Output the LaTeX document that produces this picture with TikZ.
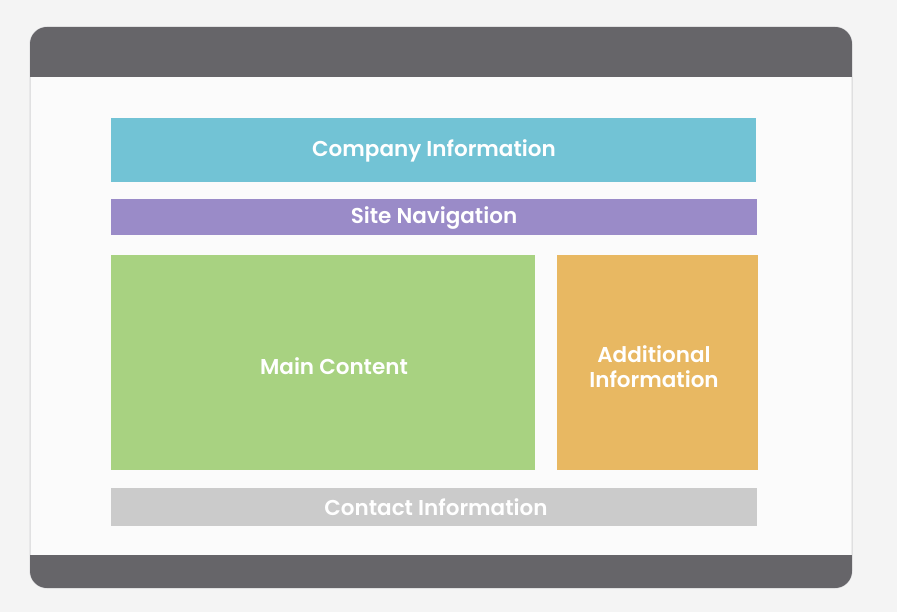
\documentclass[tikz,border=0pt]{standalone}
\usepackage{fontspec}
\setmainfont{Poppins}[BoldFont=Poppins SemiBold]
\definecolor{pagebg}{HTML}{F4F4F4}
\definecolor{framefill}{HTML}{FBFBFB}
\definecolor{frameline}{HTML}{D4D4D6}
\definecolor{barcol}{HTML}{666569}
\definecolor{tealcol}{HTML}{72C3D5}
\definecolor{purplecol}{HTML}{9A8BC8}
\definecolor{greencol}{HTML}{A8D281}
\definecolor{orangecol}{HTML}{E8B862}
\definecolor{greycol}{HTML}{CBCBCB}
\tikzset{
  block/.style={rectangle, inner sep=0pt, outer sep=0pt, anchor=north west},
  lbl/.style={text=white, inner sep=0pt, font=\bfseries\fontsize{21.5}{25}\selectfont, align=center},
}
\begin{document}
\begin{tikzpicture}[x=1pt,y=-1pt]
  % page background
  \fill[pagebg] (0,0) rectangle (897,612);
  \useasboundingbox (0,0) rectangle (897,612);
  % browser window
  \fill[framefill, draw=frameline, line width=1pt, rounded corners=17pt] (30,27) rectangle (852,588);
  \begin{scope}
    \clip[rounded corners=17pt] (30,27) rectangle (852,588);
    \fill[barcol] (30,27) rectangle (852,77);
    \fill[barcol] (30,555) rectangle (852,588);
  \end{scope}
  % page regions
  \node[block, fill=tealcol, minimum width=645pt, minimum height=64pt] (company) at (111,118) {};
  \node[lbl] (companylbl) at (434,151) {Company Information};
  \node[block, fill=purplecol, minimum width=646pt, minimum height=36pt] (nav) at (111,199) {};
  \node[lbl] (navlbl) at (434,218) {Site Navigation};
  \node[block, fill=greencol, minimum width=424pt, minimum height=215pt] (main) at (111,255) {};
  \node[lbl] (mainlbl) at (334,366) {Main Content};
  \node[block, fill=orangecol, minimum width=201pt, minimum height=215pt] (extra) at (557,255) {};
  \node[lbl] (extralbl) at (654,367) {Additional\\Information};
  \node[block, fill=greycol, minimum width=646pt, minimum height=38pt] (contact) at (111,488) {};
  \node[lbl] (contactlbl) at (436,507) {Contact Information};
\end{tikzpicture}
\end{document}
